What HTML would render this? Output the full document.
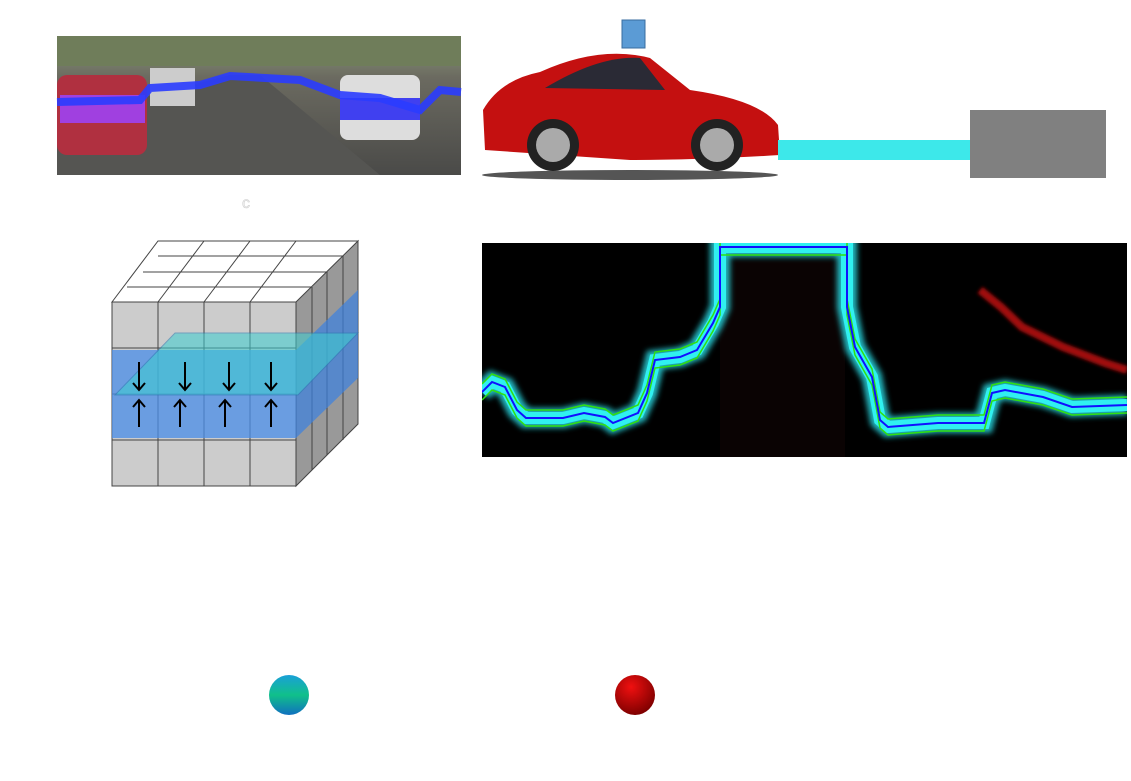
<!DOCTYPE html>
<html><head><meta charset="utf-8"><style>
body{margin:0;background:#fff;width:1131px;height:781px;overflow:hidden;font-family:"Liberation Sans",sans-serif}
svg{position:absolute;left:0;top:0}
</style></head><body>
<svg width="1131" height="781" viewBox="0 0 1131 781">
<defs>
<linearGradient id="road" x1="0" y1="0" x2="0" y2="1"><stop offset="0" stop-color="#8a9a7a"/><stop offset="0.3" stop-color="#6b6a60"/><stop offset="1" stop-color="#4a4a48"/></linearGradient>
<linearGradient id="gball" x1="0" y1="0" x2="0" y2="1"><stop offset="0" stop-color="#1aa0d8"/><stop offset="0.5" stop-color="#10c08a"/><stop offset="1" stop-color="#1070c0"/></linearGradient>
<radialGradient id="rball" cx="0.4" cy="0.3" r="0.7"><stop offset="0" stop-color="#f01010"/><stop offset="1" stop-color="#800000"/></radialGradient>
<filter id="blur"><feGaussianBlur stdDeviation="3"/></filter>
<filter id="rblur"><feGaussianBlur stdDeviation="1.5"/></filter>
<clipPath id="pclip"><rect x="482" y="243" width="645" height="214"/></clipPath>
</defs>
<g>
<rect x="57" y="36" width="404" height="139" fill="url(#road)"/>
<rect x="57" y="36" width="404" height="30" fill="#6f7d5a"/>
<polygon points="57,120 230,75 260,75 380,175 57,175" fill="#555552"/>
<rect x="57" y="75" width="90" height="80" rx="10" fill="#b03040"/>
<rect x="60" y="95" width="85" height="28" fill="#a040e0"/>
<rect x="150" y="68" width="45" height="38" fill="#ccc"/>
<rect x="340" y="75" width="80" height="65" rx="8" fill="#ddd"/>
<rect x="340" y="98" width="80" height="22" fill="#4040f0"/>
<polyline points="57,102 140,100 150,88 200,85 230,76 300,80 340,95 380,98 420,110 440,90 461,92" fill="none" stroke="#2a3cff" stroke-width="8" opacity="0.9"/>
</g>
<text x="246" y="208" font-size="16" fill="#eee" stroke="#ccc" stroke-width="0.5" text-anchor="middle">c</text>
<g>
<ellipse cx="630" cy="175" rx="148" ry="5" fill="#555"/>
<path d="M485,150 L483,110 Q500,80 540,72 Q600,45 650,58 L690,90 Q760,100 778,125 L780,155 Q700,160 630,160 Z" fill="#c41010"/>
<path d="M545,88 Q600,55 640,58 L665,90 Z" fill="#2a2a35"/>
<circle cx="553" cy="145" r="26" fill="#222"/><circle cx="553" cy="145" r="17" fill="#aaa"/>
<circle cx="717" cy="145" r="26" fill="#222"/><circle cx="717" cy="145" r="17" fill="#aaa"/>
<rect x="622" y="20" width="23" height="28" fill="#5b9bd5" stroke="#3a6ea0"/>
<polygon points="778,140 970,140 970,160 778,160" fill="#3de8ea"/>
<rect x="970" y="110" width="136" height="68" fill="#808080"/>
</g>
<g stroke="#444" stroke-width="1">
<polygon points="112,302 158,241 358,241 312,302" fill="#fff"/>
<polygon points="296,302 358,241 358,424 296,486" fill="#999"/>
<rect x="112" y="302" width="184" height="184" fill="#ccc"/>
<g fill="none"><line x1="158" y1="302" x2="158" y2="486"/><line x1="204" y1="302" x2="204" y2="486"/><line x1="250" y1="302" x2="250" y2="486"/>
<line x1="112" y1="348" x2="296" y2="348"/><line x1="112" y1="394" x2="296" y2="394"/><line x1="112" y1="440" x2="296" y2="440"/>
<line x1="127" y1="287" x2="312" y2="287"/><line x1="143" y1="272" x2="327" y2="272"/><line x1="158" y1="256" x2="343" y2="256"/>
<line x1="158" y1="302" x2="204" y2="241"/><line x1="204" y1="302" x2="250" y2="241"/><line x1="250" y1="302" x2="296" y2="241"/>
<line x1="312" y1="287" x2="312" y2="470"/><line x1="327" y1="272" x2="327" y2="455"/><line x1="343" y1="256" x2="343" y2="440"/></g>
<rect x="112" y="350" width="184" height="88" fill="#4a8ee8" opacity="0.75" stroke="none"/>
<polygon points="296,350 358,290 358,378 296,438" fill="#3a80e0" opacity="0.7" stroke="none"/>
<polygon points="115,395 175,333 358,333 298,395" fill="#3ccfd0" opacity="0.55" stroke="#2a7ab0"/>
<g stroke="#000" stroke-width="2" fill="none">
<path d="M139,362v28M133,383l6,7 6,-7M185,362v28M179,383l6,7 6,-7M229,362v28M223,383l6,7 6,-7M271,362v28M265,383l6,7 6,-7"/>
<path d="M139,427v-27M133,407l6,-7 6,7M180,427v-27M174,407l6,-7 6,7M225,427v-27M219,407l6,-7 6,7M271,427v-27M265,407l6,-7 6,7"/>
</g></g>
<rect x="482" y="243" width="645" height="214" fill="#000"/>
<rect x="720" y="250" width="125" height="207" fill="#0a0303"/>
<g id="prof" clip-path="url(#pclip)"></g>
<circle cx="289" cy="695" r="20" fill="url(#gball)"/>
<circle cx="635" cy="695" r="20" fill="url(#rball)"/>
</svg>
<script>
const xs=[0,10,23,35,44,81,102,123,131,156,165,173,198,215,231,238,238,365,365,373,390,398,406,456,502,510,523,561,590,645];
const depth=[149,139,144,167,175,175,170,174,180,170,150,117,114,107,80,64,4,4,64,104,134,177,184,180,180,150,147,154,164,162];
const redX=[498,519,540,581,623,645];
const redY=[47,64,84,104,120,127];
const g=document.getElementById('prof');
const X=v=>482+v, Y=v=>243+v;
const NS='http://www.w3.org/2000/svg';
function line(off,color,w,blur,nm){const p=document.createElementNS(NS,'polyline');
p.setAttribute('points',xs.map((x,i)=>X(x)+','+(Y(depth[i])+off)).join(' '));
p.setAttribute('fill','none');p.setAttribute('stroke',color);p.setAttribute('stroke-width',w);
if(blur)p.setAttribute('filter','url(#blur)');


g.appendChild(p);}
const r=document.createElementNS(NS,'polyline');
r.setAttribute('points',redX.map((x,i)=>X(x)+','+Y(redY[i])).join(' '));
r.setAttribute('fill','none');r.setAttribute('stroke','#a01010');r.setAttribute('stroke-width',8);
r.setAttribute('filter','url(#rblur)');


g.appendChild(r);
line(0,'#20b8c0',20,true,'uncertainty-glow');
line(0,'#30f0f0',12,false,'uncertainty-band');
line(-8,'#30e010',1.5,false,'upper-bound-line');
line(8,'#30e010',1.5,false,'lower-bound-line');
line(0,'#1010ff',2,false,'estimate-line');
</script>
</body></html>
